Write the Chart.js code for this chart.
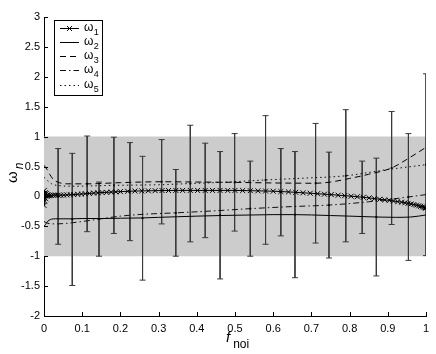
<!DOCTYPE html>
<html><head><meta charset="utf-8">
<script src="https://cdn.jsdelivr.net/npm/chart.js@4/dist/chart.umd.min.js"></script>
<style>html,body{margin:0;padding:0;background:#fff;}#wrap{width:436px;height:354px;}</style>
</head><body><div id="wrap"><canvas id="c" width="436" height="354"></canvas></div>
<script>
// ---- tick labels ----
const X_TICKS = [0,0.1,0.2,0.3,0.4,0.5,0.6,0.7,0.8,0.9,1];
const X_TICK_LABELS = ['0','0.1','0.2','0.3','0.4','0.5','0.6','0.7','0.8','0.9','1'];
const Y_TICKS = [-2,-1.5,-1,-0.5,0,0.5,1,1.5,2,2.5,3];
const Y_TICK_LABELS = ['-2','-1.5','-1','-0.5','0','0.5','1','1.5','2','2.5','3'];
const X_TITLE_MAIN = 'f', X_TITLE_SUB = 'noi';
const Y_TITLE_MAIN = 'ω', Y_TITLE_SUB = 'n';
const LEGEND_BASE = 'ω';
const LEGEND_SUBS = ['1','2','3','4','5'];

// ---- shaded band ----
const BAND_X = [0, 1];
const BAND_HI = [1, 1];
const BAND_LO = [-1, -1];

// ---- series curves ----
const W1_X = [0.000,0.001,0.002,0.003,0.004,0.006,0.008,0.010,0.013,0.016,0.020,0.025,0.031,0.037,0.044,0.052,0.060,0.069,0.078,0.088,0.098,0.108,0.119,0.130,0.141,0.152,0.164,0.176,0.188,0.200,0.219,0.238,0.256,0.273,0.291,0.309,0.326,0.345,0.363,0.383,0.402,0.422,0.441,0.461,0.481,0.500,0.520,0.540,0.560,0.580,0.600,0.620,0.640,0.659,0.678,0.697,0.716,0.734,0.752,0.770,0.787,0.804,0.820,0.836,0.851,0.865,0.879,0.892,0.904,0.915,0.926,0.936,0.945,0.953,0.961,0.968,0.975,0.981,0.986,0.991,0.995,0.998,1.000];
const W1_Y = [-0.15,0.10,-0.08,0.06,-0.04,0.05,0.00,0.03,0.01,0.02,0.015,0.02,0.02,0.02,0.02,0.022,0.025,0.028,0.03,0.035,0.04,0.045,0.05,0.055,0.06,0.065,0.068,0.072,0.076,0.08,0.085,0.09,0.092,0.094,0.096,0.098,0.099,0.10,0.10,0.10,0.10,0.10,0.10,0.10,0.10,0.10,0.098,0.096,0.093,0.09,0.087,0.081,0.075,0.068,0.06,0.053,0.045,0.037,0.03,0.02,0.012,0.003,-0.005,-0.015,-0.025,-0.037,-0.048,-0.058,-0.067,-0.077,-0.087,-0.097,-0.107,-0.117,-0.127,-0.137,-0.147,-0.157,-0.166,-0.175,-0.183,-0.19,-0.195];

const W2_X = [0,0.004,0.008,0.013,0.02,0.03,0.05,0.074,0.1,0.15,0.2,0.258,0.3,0.35,0.4,0.461,0.5,0.55,0.6,0.657,0.7,0.75,0.8,0.87,0.92,0.96,1.0];
const W2_Y = [-0.50,-0.47,-0.43,-0.40,-0.38,-0.375,-0.375,-0.375,-0.37,-0.37,-0.365,-0.36,-0.35,-0.34,-0.33,-0.32,-0.315,-0.31,-0.305,-0.305,-0.31,-0.32,-0.33,-0.345,-0.35,-0.345,-0.31];

const W3_X = [0,0.008,0.015,0.025,0.04,0.06,0.113,0.2,0.308,0.4,0.499,0.6,0.711,0.75,0.8,0.85,0.91,0.95,1.0];
const W3_Y = [0.52,0.45,0.37,0.28,0.23,0.21,0.21,0.23,0.245,0.24,0.235,0.225,0.22,0.24,0.30,0.37,0.475,0.62,0.82];

const W4_X = [0,0.01,0.03,0.06,0.1,0.144,0.2,0.258,0.345,0.45,0.54,0.65,0.746,0.85,0.954,1.0];
const W4_Y = [-0.42,-0.45,-0.46,-0.45,-0.42,-0.38,-0.33,-0.30,-0.275,-0.24,-0.205,-0.17,-0.145,-0.09,-0.01,0.03];

const W5_X = [0,0.01,0.02,0.04,0.08,0.12,0.183,0.25,0.3,0.383,0.48,0.58,0.68,0.79,0.85,0.9,0.95,1.0];
const W5_Y = [0.32,0.26,0.21,0.18,0.17,0.175,0.185,0.19,0.195,0.215,0.24,0.275,0.305,0.345,0.40,0.45,0.49,0.53];

// ---- error bars: position, centre, half-length ----
const E1_X = [0.037,0.225,0.422,0.620,0.833];
const E1_C = [0.00,0.08,0.10,0.07,-0.015];
const E1_H = [0.80,0.82,0.79,0.73,0.605];
const E2_X = [0.074,0.258,0.461,0.657,0.870];
const E2_C = [-0.385,-0.365,-0.315,-0.305,-0.345];
const E2_H = [1.105,1.035,1.065,1.055,0.985];
const E3_X = [0.113,0.308,0.499,0.711,0.910];
const E3_C = [0.21,0.245,0.235,0.22,0.475];
const E3_H = [0.80,0.705,0.815,1.00,0.945];
const E4_X = [0.144,0.345,0.540,0.746,0.954];
const E4_C = [-0.38,-0.275,-0.205,-0.145,-0.01];
const E4_H = [0.62,0.725,0.795,0.885,1.06];
const E5_X = [0.183,0.383,0.580,0.790,1.000];
const E5_C = [0.185,0.215,0.275,0.345,0.53];
const E5_H = [0.805,0.975,1.075,1.105,1.52];

const zip = (xs, ys) => xs.map((x, i) => ({x, y: ys[i]}));
const errSegs = (xs, cs, hs) => {
  const out = [];
  xs.forEach((x, i) => { out.push({x, y: cs[i] + hs[i]}, {x, y: cs[i] - hs[i]}, {x, y: null}); });
  return out;
};

const LINE_STYLES = [
  {dash: [], color: '#000', marker: 'crossRot'},
  {dash: [], color: '#000', marker: false},
  {dash: [6, 4], color: '#000', marker: false},
  {dash: [6, 3, 1.5, 3], color: '#111', marker: false},
  {dash: [1.5, 3], color: '#111', marker: false}
];
const SERIES = [[W1_X, W1_Y], [W2_X, W2_Y], [W3_X, W3_Y], [W4_X, W4_Y], [W5_X, W5_Y]];
const ERRS = [[E1_X, E1_C, E1_H], [E2_X, E2_C, E2_H], [E3_X, E3_C, E3_H], [E4_X, E4_C, E4_H], [E5_X, E5_C, E5_H]];

const datasets = [];
SERIES.forEach((s, i) => {
  const st = LINE_STYLES[i];
  datasets.push({
    type: 'line', data: zip(s[0], s[1]), borderColor: st.color, borderWidth: 1,
    borderDash: st.dash, fill: false, order: 1,
    cubicInterpolationMode: st.marker ? 'default' : 'monotone', tension: 0,
    pointRadius: st.marker ? 3.5 : 0, pointStyle: st.marker || 'circle',
    pointBorderColor: '#000', pointBorderWidth: 1, pointBackgroundColor: 'rgba(0,0,0,0)'
  });
});
ERRS.forEach((e) => {
  datasets.push({
    type: 'line', data: errSegs(e[0], e[1], e[2]), borderColor: '#3a3a3a', borderWidth: 1,
    spanGaps: false, fill: false, order: 3, tension: 0,
    pointStyle: 'line', pointRadius: 3, pointBorderColor: '#3a3a3a', pointBorderWidth: 1
  });
  datasets.push({
    type: 'line', data: zip(e[0], e[1]), showLine: false, order: 2,
    pointStyle: 'rect', pointRadius: 1.3, pointBackgroundColor: '#000', pointBorderWidth: 0
  });
});
datasets.push({type: 'line', data: zip(BAND_X, BAND_HI), borderWidth: 0, pointRadius: 0, fill: '+1', backgroundColor: '#cccccc', order: 10});
datasets.push({type: 'line', data: zip(BAND_X, BAND_LO), borderWidth: 0, pointRadius: 0, fill: false, order: 11});

const FONT = 'Liberation Sans, Arial, sans-serif';

const decor = {
  id: 'decor',
  afterDraw(chart) {
    const ctx = chart.ctx, xs = chart.scales.x, ys = chart.scales.y, a = chart.chartArea;
    ctx.save();
    ctx.strokeStyle = '#000'; ctx.lineWidth = 1; ctx.setLineDash([]);
    ctx.beginPath();
    X_TICKS.forEach(v => { const p = Math.round(xs.getPixelForValue(v)) + 0.5; ctx.moveTo(p, a.bottom); ctx.lineTo(p, a.bottom - 4); });
    Y_TICKS.forEach(v => { const p = Math.round(ys.getPixelForValue(v)) + 0.5; ctx.moveTo(a.left, p); ctx.lineTo(a.left + 4, p); });
    ctx.stroke();

    // x title
    ctx.fillStyle = '#000';
    ctx.textBaseline = 'alphabetic'; ctx.textAlign = 'left';
    ctx.font = 'italic 15px ' + FONT;
    ctx.fillText(X_TITLE_MAIN, 226, 342);
    const fw = ctx.measureText(X_TITLE_MAIN).width;
    ctx.font = '12px ' + FONT;
    ctx.fillText(X_TITLE_SUB, 226 + fw + 3, 348);

    // y title
    ctx.save();
    ctx.translate(17, 183);
    ctx.rotate(-Math.PI / 2);
    ctx.font = '15px ' + FONT;
    ctx.fillText(Y_TITLE_MAIN, 0, 0);
    const ww = ctx.measureText(Y_TITLE_MAIN).width;
    ctx.font = 'italic 12px ' + FONT;
    ctx.fillText(Y_TITLE_SUB, ww + 2, 6);
    ctx.restore();

    // legend
    const bx = 54.5, by = 20.5, bw = 48, bh = 75;
    ctx.fillStyle = '#fff';
    ctx.fillRect(bx, by, bw, bh);
    ctx.strokeStyle = '#000';
    ctx.strokeRect(bx, by, bw, bh);
    LINE_STYLES.forEach((st, i) => {
      const y = Math.round(27.5 + i * 14.3) + 0.5;
      ctx.strokeStyle = st.color; ctx.lineWidth = 1;
      ctx.setLineDash(st.dash);
      ctx.beginPath(); ctx.moveTo(60, y); ctx.lineTo(79, y); ctx.stroke();
      ctx.setLineDash([]);
      if (st.marker) {
        const r = 3.5 * Math.SQRT1_2;
        ctx.beginPath();
        ctx.moveTo(69.5 - r, y - r); ctx.lineTo(69.5 + r, y + r);
        ctx.moveTo(69.5 - r, y + r); ctx.lineTo(69.5 + r, y - r);
        ctx.stroke();
      }
      ctx.fillStyle = '#000';
      ctx.font = '12px ' + FONT;
      ctx.fillText(LEGEND_BASE, 84, y + 2);
      const lw = ctx.measureText(LEGEND_BASE).width;
      ctx.font = '9px ' + FONT;
      ctx.fillText(LEGEND_SUBS[i], 84 + lw + 0.5, y + 6);
    });
    ctx.restore();
  }
};

new Chart(document.getElementById('c'), {
  data: {datasets},
  options: {
    responsive: false, animation: false, devicePixelRatio: 1,
    layout: {padding: {left: 0, right: 10, top: 17, bottom: 0}},
    plugins: {legend: {display: false}, tooltip: {enabled: false}},
    scales: {
      x: {
        type: 'linear', min: 0, max: 1,
        grid: {display: false, drawTicks: false},
        border: {display: true, color: '#000', width: 1},
        afterBuildTicks: s => { s.ticks = X_TICKS.map(v => ({value: v})); },
        afterFit: s => { s.height = 38; },
        ticks: {color: '#000', font: {family: FONT, size: 11}, padding: 6, maxRotation: 0, autoSkip: false,
          callback: (v, i) => X_TICK_LABELS[i]}
      },
      y: {
        type: 'linear', min: -2, max: 3,
        grid: {display: false, drawTicks: false},
        border: {display: true, color: '#000', width: 1},
        afterBuildTicks: s => { s.ticks = Y_TICKS.map(v => ({value: v})); },
        afterFit: s => { s.width = 44; },
        ticks: {color: '#000', font: {family: FONT, size: 11}, padding: 4, autoSkip: false,
          callback: (v, i) => Y_TICK_LABELS[i]}
      }
    }
  },
  plugins: [decor]
});
</script></body></html>
